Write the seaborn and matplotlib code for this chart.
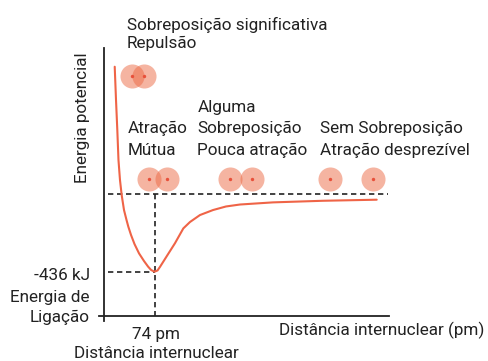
import matplotlib
matplotlib.use("Agg")
import matplotlib.pyplot as plt
import seaborn as sns
import pandas as pd

# ---- data (pm, kJ) ----
curve_x = [15.7, 17.6, 19.5, 21.2, 23.4, 25.9, 29.3, 33.0, 35.6, 39.6, 44.7, 51.3, 58.6, 64.5, 68.9, 74,
           78.4, 82.0, 91.9, 104.0, 116.2, 126.0, 140.6, 159.7, 178.7, 199.2, 247.6, 320.8, 399.5]
curve_y = [714, 527, 359, 191, 79, -6, -90, -146, -183, -230, -281, -333, -376, -407, -426, -436,
           -429, -409, -349, -276, -193, -157, -118, -90, -70, -59, -47, -38, -32]

atoms_x = [40.6, 59.0, 65.9, 92.3, 184.6, 216.8, 331.0, 393.6]
atoms_y = [662, 662, 82, 82, 82, 82, 82, 82]

bond_length = 74
bond_energy = -436

sns.set_theme(style="white")
plt.rcParams['font.family'] = ['Roboto', 'DejaVu Sans']

W, H = 488, 361
fig = plt.figure(figsize=(W / 100, H / 100), dpi=100)
ax = fig.add_axes([98 / W, 1 - 322 / H, (392 - 98) / W, (322 - 45) / H])
ax.set_xlim(-8.79, 421.9)
ax.set_ylim(-718.1, 835.9)

ink = '#222222'
fs = 12.3

# dashed guide lines
dash = (0, (3.2, 2.2))
ax.plot([6, 416], [0, 0], ls=dash, color=ink, lw=1.2, zorder=1)
ax.plot([6, bond_length], [bond_energy, bond_energy], ls=dash, color=ink, lw=1.2, zorder=1)
ax.plot([bond_length, bond_length], [0, -684], ls=dash, color=ink, lw=1.2, zorder=1)

# potential curve
df = pd.DataFrame({"x": curve_x, "y": curve_y})
sns.lineplot(data=df, x="x", y="y", sort=False, estimator=None, color='#EF6447', lw=1.5, ax=ax, zorder=3)

# atoms
adf = pd.DataFrame({"x": atoms_x, "y": atoms_y})
sns.scatterplot(data=adf, x="x", y="y", s=300, color='#EC6A45', alpha=0.5, linewidth=0, ax=ax, zorder=4)
sns.scatterplot(data=adf, x="x", y="y", s=6, color='#E8503A', linewidth=0, ax=ax, zorder=5)

# spines
for s in ['top', 'right']:
    ax.spines[s].set_visible(False)
ax.spines['left'].set_position(('data', 0))
ax.spines['bottom'].set_position(('data', -684))
ax.spines['left'].set_bounds(-715, 820)
ax.spines['bottom'].set_bounds(-7, 418)
for s in ['left', 'bottom']:
    ax.spines[s].set_color(ink)
    ax.spines[s].set_linewidth(1.3)
ax.set_xticks([])
ax.set_yticks([])
ax.set_xlabel('')
ax.set_ylabel('')
ax.patch.set_alpha(0)

def t(x, y, s, **kw):
    fig.text(x / W, 1 - y / H, s, fontsize=fs, color=ink, va='baseline', **kw)

t(127, 30, 'Sobreposição significativa')
t(127, 48.3, 'Repulsão')
t(197.3, 111.7, 'Alguma')
t(127.3, 133.3, 'Atração')
t(127.3, 155, 'Mútua')
t(197.3, 133.3, 'Sobreposição')
t(197.3, 155, 'Pouca atração')
t(320, 133.3, 'Sem Sobreposição')
t(320, 155, 'Atração desprezível')

t(90, 280, '-436 kJ', ha='right')
t(90, 302, 'Energia de', ha='right')
t(90, 321.7, 'Ligação', ha='right')

t(156.5, 339, '74 pm', ha='center')
t(156.5, 358, 'Distância internuclear', ha='center')
t(382, 335.5, 'Distância internuclear (pm)', ha='center')

fig.text(82.5 / W, 1 - 118 / H, 'Energia potencial', rotation=90, fontsize=fs,
         color=ink, ha='center', va='center')

fig.savefig('out.png', dpi=100)
